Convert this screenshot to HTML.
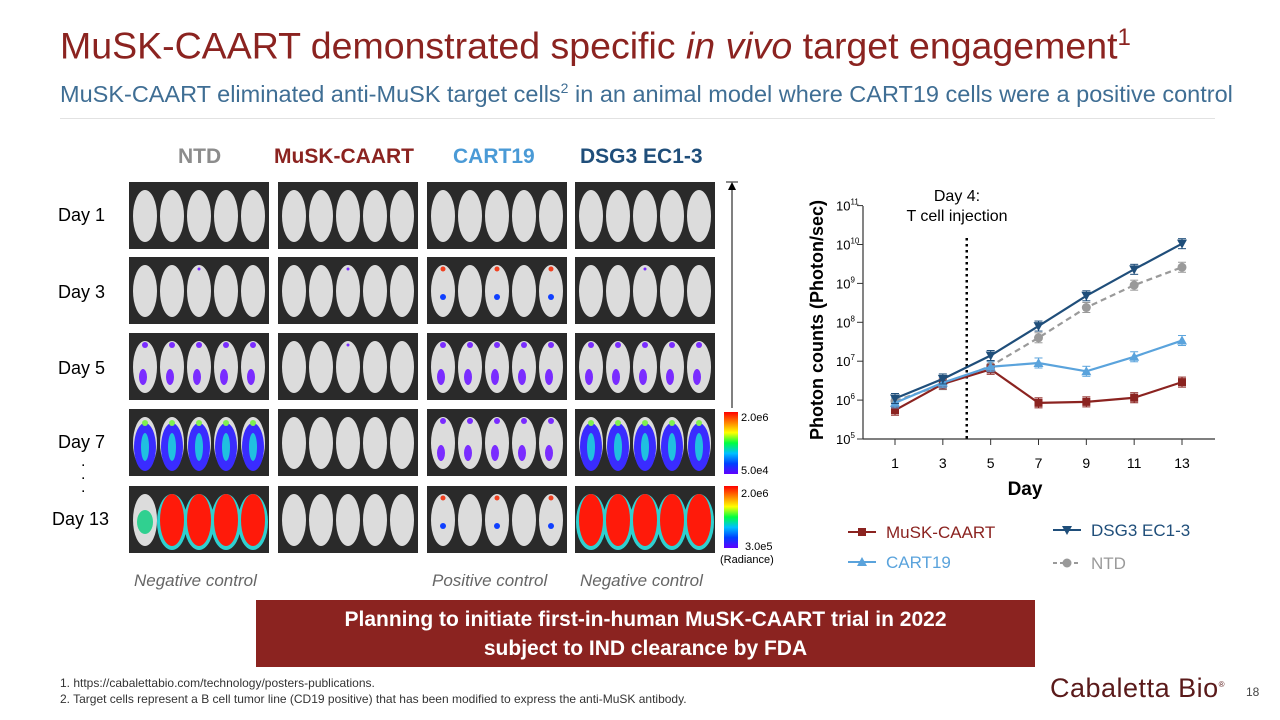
<!DOCTYPE html>
<html><head><meta charset="utf-8">
<style>
body{margin:0;width:1280px;height:720px;position:relative;background:#fff;font-family:"Liberation Sans",sans-serif;overflow:hidden}
.a{position:absolute;white-space:nowrap}
</style></head><body>
<div class="a" style="left:60px;top:24px;font-size:37.5px;color:#8b2320">MuSK-CAART demonstrated specific <i>in vivo</i> target engagement<sup style="font-size:24px">1</sup></div>
<div class="a" style="left:60px;top:80px;font-size:23.5px;color:#3f6e94">MuSK-CAART eliminated anti-MuSK target cells<sup style="font-size:14px">2</sup> in an animal model where CART19 cells were a positive control</div>
<div class="a" style="left:60px;top:118px;width:1155px;height:1px;background:#e2e2e2"></div>

<div class="a" style="left:178px;top:145px;font-size:21px;font-weight:bold;color:#8c8c8c">NTD</div>
<div class="a" style="left:274px;top:145px;font-size:21px;font-weight:bold;color:#8b2320">MuSK-CAART</div>
<div class="a" style="left:453px;top:145px;font-size:21px;font-weight:bold;color:#4a9ad6">CART19</div>
<div class="a" style="left:580px;top:145px;font-size:21px;font-weight:bold;color:#1f4e7a">DSG3 EC1-3</div>

<div class="a" style="left:58px;top:205px;font-size:18px">Day 1</div>
<div class="a" style="left:58px;top:282px;font-size:18px">Day 3</div>
<div class="a" style="left:58px;top:358px;font-size:18px">Day 5</div>
<div class="a" style="left:58px;top:432px;font-size:18px">Day 7</div>
<div class="a" style="left:81px;top:455px;font-size:16px;line-height:13px">.<br>.<br>.</div>
<div class="a" style="left:52px;top:509px;font-size:18px">Day 13</div>

<svg class="a" id="grid" style="left:0;top:0" width="780" height="580"></svg>

<div class="a" style="left:134px;top:571px;font-size:17px;font-style:italic;color:#666">Negative control</div>
<div class="a" style="left:432px;top:571px;font-size:17px;font-style:italic;color:#666">Positive control</div>
<div class="a" style="left:580px;top:571px;font-size:17px;font-style:italic;color:#666">Negative control</div>

<svg class="a" id="chart" style="left:790px;top:170px" width="460" height="420"></svg>

<div class="a" style="left:256px;top:600px;width:779px;height:67px;background:#8b2320;color:#fff;font-size:21px;font-weight:bold;text-align:center;line-height:29px;padding-top:5px;box-sizing:border-box">Planning to initiate first-in-human MuSK-CAART trial in 2022<br>subject to IND clearance by FDA</div>
<div class="a" style="left:60px;top:675px;font-size:12px;line-height:16px;color:#333">1. https://cabalettabio.com/technology/posters-publications.<br>2. Target cells represent a B cell tumor line (CD19 positive) that has been modified to express the anti-MuSK antibody.</div>
<div class="a" style="left:1050px;top:673px;font-size:27px;color:#5a1a1a;letter-spacing:0.5px">Cabaletta Bio<sup style="font-size:8px">®</sup></div>
<div class="a" style="left:1246px;top:685px;font-size:12px;color:#444">18</div>

<script>
const NS="http://www.w3.org/2000/svg";
function mk(p,t,a){const e=document.createElementNS(NS,t);for(const k in a)e.setAttribute(k,a[k]);p.appendChild(e);return e;}
const g=document.getElementById('grid');
const colX=[129,278,427,575], rowY=[182,257,333,409,486];
const levels=[[0,0,0,0],[1,1,1,1],[2,1,2,2],[3,0,2,3],[4,0,1,4]];
for(let r=0;r<5;r++)for(let c=0;c<4;c++){
  const x=colX[c],y=rowY[r],w=140,h=67;
  const p=mk(g,'rect',{x:x,y:y,width:w,height:h,fill:'#2a2a2a'});
  
  
  const L=levels[r][c];
  for(let m=0;m<5;m++){
    const cx=x+16+m*27;
    const col = L===4 && !(c===0&&m===0) ? '#ff1a0a' : '#dcdcdc';
    if(L===4 && !(c===0&&m===0)) mk(g,'ellipse',{cx:cx,cy:y+36,rx:15,ry:28,fill:'#2fd0d0'});
    mk(g,'ellipse',{cx:cx,cy:y+34,rx:12,ry:26,fill:col});
    if(L===3){mk(g,'ellipse',{cx:cx,cy:y+38,rx:11,ry:24,fill:'#3a2cff'});mk(g,'ellipse',{cx:cx,cy:y+38,rx:4,ry:14,fill:'#20c0e0'});mk(g,'circle',{cx:cx,cy:y+14,r:3,fill:'#7ff050'});}
    if(L===2){mk(g,'ellipse',{cx:cx-2,cy:y+44,rx:4,ry:8,fill:'#7a2cff'});mk(g,'circle',{cx:cx,cy:y+12,r:3,fill:'#7a2cff'});}
    if(L===1 && (c===2&&m%2===0)){mk(g,'circle',{cx:cx,cy:y+40,r:3,fill:'#1040ff'});mk(g,'circle',{cx:cx,cy:y+12,r:2.5,fill:'#f04020'});}
    if(L===1 && c!==2 && m===2) mk(g,'circle',{cx:cx,cy:y+12,r:1.5,fill:'#7a2cff'});
    if(L===4 && c===0 && m===0){mk(g,'ellipse',{cx:cx,cy:y+36,rx:8,ry:12,fill:'#30d090'});}
  }
}
mk(g,'line',{x1:732,y1:183,x2:732,y2:408,stroke:'#000','stroke-width':1});
mk(g,'line',{x1:726,y1:182,x2:738,y2:182,stroke:'#666','stroke-width':1.5});
mk(g,'path',{d:'M728,190 L732,182 L736,190 Z',fill:'#000'});
const defs=mk(g,'defs',{});const lg=mk(defs,'linearGradient',{id:'rb',x1:0,y1:0,x2:0,y2:1});
['#ff0000','#ff8000','#ffff00','#00ff40','#00c0ff','#0040ff','#6000ff'].forEach((c,i)=>mk(lg,'stop',{offset:i/6,'stop-color':c}));
mk(g,'rect',{x:724,y:412,width:14,height:62,fill:'url(#rb)'});
mk(g,'rect',{x:724,y:486,width:14,height:62,fill:'url(#rb)'});
[['2.0e6',741,421],['5.0e4',741,474],['2.0e6',741,497],['3.0e5',745,550],['(Radiance)',720,563]].forEach(t=>{const e=mk(g,'text',{x:t[1],y:t[2],'font-size':11,fill:'#000'});e.textContent=t[0];});

const days=[1,3,5,7,9,11,13];
const ntd=[9.5e5,2.5e6,7.5e6,4.0e7,2.4e8,9.0e8,2.6e9];
const dsg3=[1.1e6,3.5e6,1.4e7,8.0e7,4.8e8,2.3e9,1.05e10];
const cart19=[8.5e5,2.8e6,7.2e6,9.0e6,5.5e6,1.3e7,3.4e7];
const musk=[5.5e5,2.6e6,6.2e6,8.5e5,9.0e5,1.15e6,2.9e6];
const yTicks=[5,6,7,8,9,10,11];
const ch=document.getElementById('chart');
const X=d=>105+(d-1)/12*287, Y=v=>269-(Math.log10(v)-5)*38.9;
mk(ch,'line',{x1:73,y1:36,x2:73,y2:269,stroke:'#333','stroke-width':1.2});
mk(ch,'line',{x1:73,y1:269,x2:425,y2:269,stroke:'#333','stroke-width':1.2});
yTicks.forEach(t=>{const y=Y(Math.pow(10,t));mk(ch,'line',{x1:67,y1:y,x2:73,y2:y,stroke:'#333'});
 const e=mk(ch,'text',{x:46,y:y+5,'font-size':13});e.innerHTML='10<tspan dy="-6" font-size="8">'+t+'</tspan>';
 });
days.forEach(d=>{mk(ch,'line',{x1:X(d),y1:269,x2:X(d),y2:275,stroke:'#333'});const e=mk(ch,'text',{x:X(d),y:298,'font-size':14,'text-anchor':'middle'});e.textContent=d;
 });
let t=mk(ch,'text',{x:235,y:325,'font-size':19,'font-weight':'bold','text-anchor':'middle'});t.textContent='Day';

t=mk(ch,'text',{x:0,y:0,'font-size':18,'font-weight':'bold','text-anchor':'middle',transform:'translate(33,150) rotate(-90)'});t.textContent='Photon counts (Photon/sec)';

t=mk(ch,'text',{x:167,y:31,'font-size':16,'text-anchor':'middle'});t.textContent='Day 4:';
t=mk(ch,'text',{x:167,y:51,'font-size':16,'text-anchor':'middle'});t.textContent='T cell injection';

mk(ch,'line',{x1:X(4),y1:68,x2:X(4),y2:269,stroke:'#000','stroke-width':2.5,'stroke-dasharray':'2.5,3.5'});
function marker(p,kind,x,y,c){
  if(kind==='sq') return mk(p,'rect',{x:x-4,y:y-4,width:8,height:8,fill:c});
  if(kind==='up') return mk(p,'path',{d:`M${x-5},${y+4}L${x+5},${y+4}L${x},${y-5}Z`,fill:c});
  if(kind==='dn') return mk(p,'path',{d:`M${x-5},${y-4}L${x+5},${y-4}L${x},${y+5}Z`,fill:c});
  return mk(p,'circle',{cx:x,cy:y,r:4.5,fill:c});
}
const series=[['ntd',ntd,'#9a9a9a','ci','6,4'],['musk',musk,'#8b2320','sq',''],['cart19',cart19,'#5aa3dc','up',''],['dsg3',dsg3,'#1f4e7a','dn','']];
series.forEach(s=>{
  const pts=s[1].map((v,i)=>X(days[i])+','+Y(v)).join(' ');
  const pl=mk(ch,'polyline',{points:pts,fill:'none',stroke:s[2],'stroke-width':2.2,'stroke-dasharray':s[4]});
  
  s[1].forEach((v,i)=>{const x=X(days[i]),y=Y(v);
    mk(ch,'line',{x1:x,y1:y-5,x2:x,y2:y+5,stroke:s[2]});mk(ch,'line',{x1:x-4,y1:y-5,x2:x+4,y2:y-5,stroke:s[2]});mk(ch,'line',{x1:x-4,y1:y+5,x2:x+4,y2:y+5,stroke:s[2]});
    const m=marker(ch,s[3],x,y,s[2]);
    });
});
const leg=[['MuSK-CAART',musk,'#8b2320','sq',50,362,''],['DSG3 EC1-3',dsg3,'#1f4e7a','dn',255,360,''],['CART19',cart19,'#5aa3dc','up',50,392,''],['NTD',ntd,'#9a9a9a','ci',255,393,'4,3']];
leg.forEach(l=>{const x=l[4],y=l[5];
  mk(ch,'line',{x1:x+8,y1:y,x2:x+36,y2:y,stroke:l[2],'stroke-width':2,'stroke-dasharray':l[6]});
  marker(ch,l[3],x+22,y,l[2]);
  const e=mk(ch,'text',{x:x+46,y:y+6,'font-size':17,fill:l[2]});e.textContent=l[0];
  });
</script>
</body></html>
